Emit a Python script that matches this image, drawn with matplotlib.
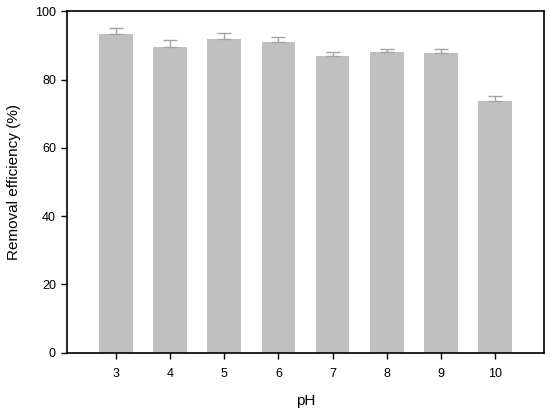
import matplotlib
matplotlib.use("Agg")
import matplotlib.pyplot as plt

# pH vs removal efficiency
ph = [3, 4, 5, 6, 7, 8, 9, 10]
removal = [93.4, 89.6, 92.0, 91.0, 86.8, 88.1, 87.9, 73.7]
err = [1.6, 2.0, 1.7, 1.5, 1.2, 1.0, 1.2, 1.4]
y_ticks = [0, 20, 40, 60, 80, 100]

plt.rcParams['font.family'] = ['Liberation Sans', 'DejaVu Sans']

fig = plt.figure(figsize=(5.5, 4.13), dpi=100)
ax = fig.add_axes([67 / 550, 1 - 352.7 / 413, (544 - 67) / 550, (352.7 - 11.3) / 413])

ax.bar(ph, removal, width=0.62, color='#c0c0c0', edgecolor='none', zorder=2)
ax.errorbar(ph, removal, yerr=[[0] * len(err), err], fmt='none', ecolor='#a4a4a4',
            elinewidth=1.0, capsize=5, capthick=1.0, zorder=3)

ax.set_xlim(2.1, 10.9)
ax.set_ylim(0, 100)
ax.set_xticks(ph)
ax.set_yticks(y_ticks)
ax.tick_params(axis='both', direction='out', length=4, width=1, labelsize=9,
               top=False, right=False)
ax.tick_params(axis='x', pad=7)
ax.tick_params(axis='y', pad=4)
for s in ax.spines.values():
    s.set_linewidth(1.2)

ax.set_xlabel('pH', fontsize=11, labelpad=10)
ax.set_ylabel('Removal efficiency (%)', fontsize=11, labelpad=10)

fig.savefig('out.png', dpi=100)
